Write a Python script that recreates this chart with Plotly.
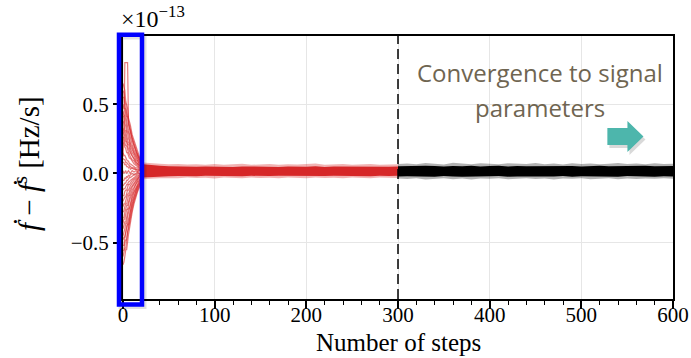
import plotly.graph_objects as go

# ---------------- data (values in units of 1e-13 Hz/s) ----------------
walker_steps = [0, 1, 2, 3, 4, 5, 6, 7, 8, 10, 12, 14, 16, 18, 20, 22]
walkers = [
    [0.65, 0.62, 0.60, 0.52, 0.50, 0.47, 0.40, 0.38, 0.35, 0.28, 0.24, 0.19, 0.15, 0.12, 0.09, 0.06],
    [0.60, 0.58, 0.52, 0.50, 0.44, 0.42, 0.38, 0.33, 0.32, 0.26, 0.21, 0.18, 0.14, 0.11, 0.08, 0.05],
    [0.55, 0.55, 0.48, 0.46, 0.41, 0.41, 0.35, 0.31, 0.30, 0.24, 0.20, 0.17, 0.13, 0.10, 0.07, 0.05],
    [0.50, 0.47, 0.47, 0.40, 0.38, 0.34, 0.31, 0.29, 0.26, 0.21, 0.17, 0.14, 0.11, 0.09, 0.06, 0.04],
    [0.45, 0.42, 0.42, 0.37, 0.33, 0.30, 0.30, 0.25, 0.22, 0.19, 0.15, 0.13, 0.10, 0.08, 0.06, 0.04],
    [0.41, 0.41, 0.36, 0.34, 0.30, 0.29, 0.25, 0.24, 0.20, 0.17, 0.14, 0.12, 0.09, 0.07, 0.05, 0.03],
    [0.38, 0.36, 0.31, 0.31, 0.27, 0.25, 0.22, 0.22, 0.18, 0.15, 0.13, 0.10, 0.09, 0.06, 0.05, 0.03],
    [0.33, 0.30, 0.30, 0.26, 0.24, 0.21, 0.21, 0.17, 0.16, 0.13, 0.11, 0.09, 0.07, 0.06, 0.04, 0.03],
    [0.30, 0.28, 0.27, 0.23, 0.23, 0.19, 0.18, 0.16, 0.15, 0.12, 0.10, 0.08, 0.07, 0.05, 0.04, 0.02],
    [0.26, 0.26, 0.22, 0.20, 0.20, 0.17, 0.15, 0.14, 0.12, 0.10, 0.09, 0.07, 0.06, 0.04, 0.03, 0.02],
    [0.22, 0.22, 0.19, 0.18, 0.15, 0.15, 0.13, 0.11, 0.11, 0.09, 0.07, 0.06, 0.05, 0.04, 0.03, 0.02],
    [0.15, 0.13, 0.13, 0.11, 0.10, 0.09, 0.09, 0.07, 0.07, 0.06, 0.05, 0.04, 0.04, 0.03, 0.02, 0.02],
    [0.11, 0.10, 0.10, 0.08, 0.08, 0.07, 0.06, 0.06, 0.05, 0.04, 0.04, 0.03, 0.03, 0.02, 0.02, 0.01],
    [0.08, 0.08, 0.06, 0.07, 0.05, 0.05, 0.04, 0.05, 0.03, 0.04, 0.03, 0.03, 0.02, 0.03, 0.02, 0.01],
    [0.02, 0.00, 0.01, 0.02, 0.00, 0.01, 0.02, 0.01, 0.00, 0.02, 0.01, 0.02, 0.01, 0.02, 0.01, 0.02],
    [-0.05, -0.05, -0.03, -0.04, -0.02, -0.03, -0.01, -0.02, -0.01, 0.00, -0.01, 0.00, 0.01, 0.00, 0.01, 0.01],
    [-0.09, -0.08, -0.07, -0.07, -0.05, -0.05, -0.04, -0.03, -0.03, -0.02, -0.01, -0.01, 0.00, 0.00, 0.01, 0.01],
    [-0.12, -0.11, -0.11, -0.09, -0.08, -0.08, -0.06, -0.06, -0.05, -0.04, -0.03, -0.02, -0.01, -0.01, 0.00, 0.01],
    [-0.16, -0.16, -0.13, -0.12, -0.12, -0.10, -0.08, -0.08, -0.07, -0.05, -0.04, -0.03, -0.02, -0.01, 0.00, 0.01],
    [-0.20, -0.18, -0.17, -0.17, -0.14, -0.12, -0.12, -0.10, -0.09, -0.07, -0.05, -0.04, -0.03, -0.02, -0.01, 0.00],
    [-0.24, -0.22, -0.22, -0.19, -0.17, -0.15, -0.15, -0.12, -0.11, -0.09, -0.07, -0.05, -0.04, -0.02, -0.01, 0.00],
    [-0.28, -0.27, -0.24, -0.22, -0.22, -0.18, -0.16, -0.16, -0.13, -0.10, -0.08, -0.06, -0.04, -0.03, -0.02, 0.00],
    [-0.32, -0.32, -0.28, -0.26, -0.23, -0.23, -0.19, -0.18, -0.16, -0.12, -0.10, -0.07, -0.05, -0.04, -0.02, -0.01],
    [-0.36, -0.33, -0.33, -0.29, -0.26, -0.26, -0.22, -0.20, -0.18, -0.14, -0.11, -0.08, -0.06, -0.05, -0.03, -0.01],
    [-0.40, -0.38, -0.35, -0.35, -0.31, -0.28, -0.25, -0.25, -0.21, -0.16, -0.13, -0.10, -0.07, -0.05, -0.03, -0.02],
    [-0.45, -0.43, -0.40, -0.36, -0.36, -0.31, -0.28, -0.26, -0.23, -0.18, -0.14, -0.11, -0.08, -0.06, -0.04, -0.02],
    [-0.48, -0.46, -0.46, -0.40, -0.38, -0.36, -0.32, -0.29, -0.27, -0.20, -0.16, -0.12, -0.09, -0.07, -0.04, -0.02],
    [-0.52, -0.52, -0.46, -0.43, -0.40, -0.37, -0.37, -0.31, -0.28, -0.22, -0.17, -0.13, -0.10, -0.08, -0.05, -0.02],
    [-0.56, -0.55, -0.50, -0.48, -0.48, -0.41, -0.38, -0.34, -0.30, -0.24, -0.19, -0.14, -0.11, -0.08, -0.05, -0.03],
    [-0.60, -0.57, -0.54, -0.54, -0.47, -0.42, -0.40, -0.36, -0.33, -0.26, -0.20, -0.15, -0.12, -0.09, -0.06, -0.03],
    [-0.66, -0.64, -0.60, -0.55, -0.55, -0.48, -0.44, -0.40, -0.35, -0.28, -0.22, -0.17, -0.13, -0.10, -0.07, -0.03],
    [0.12, 0.30, 0.80, 0.80, 0.80, 0.80, 0.36, 0.33, 0.30, 0.25, 0.20, 0.16, 0.13, 0.10, 0.07, 0.04],
]

steps_red = [22, 30, 40, 50, 60, 70, 80, 90, 100, 110, 120, 130, 140, 150, 160, 170,
             180, 190, 200, 210, 220, 230, 240, 250, 260, 270, 280, 290, 300]
red_core_hi = [0.066, 0.060, 0.055, 0.052, 0.050, 0.052, 0.049, 0.051, 0.048, 0.050, 0.047, 0.051,
               0.049, 0.048, 0.050, 0.047, 0.051, 0.049, 0.048, 0.052, 0.047, 0.050, 0.049, 0.051,
               0.048, 0.050, 0.047, 0.049, 0.050]
red_core_lo = [-0.030, -0.026, -0.022, -0.020, -0.019, -0.018, -0.020, -0.017, -0.019, -0.016,
               -0.018, -0.020, -0.017, -0.016, -0.019, -0.017, -0.018, -0.016, -0.020, -0.017,
               -0.018, -0.016, -0.019, -0.017, -0.018, -0.020, -0.016, -0.018, -0.017]
red_out_hi = [0.080, 0.074, 0.070, 0.066, 0.068, 0.064, 0.067, 0.063, 0.069, 0.062, 0.066, 0.070,
              0.063, 0.065, 0.068, 0.062, 0.067, 0.064, 0.066, 0.071, 0.063, 0.065, 0.068, 0.062,
              0.066, 0.069, 0.063, 0.065, 0.067]
red_out_lo = [-0.042, -0.038, -0.034, -0.032, -0.035, -0.030, -0.033, -0.031, -0.036, -0.029,
              -0.032, -0.034, -0.030, -0.033, -0.031, -0.035, -0.029, -0.032, -0.034, -0.030,
              -0.033, -0.031, -0.035, -0.030, -0.032, -0.034, -0.029, -0.031, -0.033]

steps_black = [300, 310, 320, 330, 340, 350, 360, 370, 380, 390, 400, 410, 420, 430, 440, 450,
               460, 470, 480, 490, 500, 510, 520, 530, 540, 550, 560, 570, 580, 590, 600]
black_core_hi = [0.052, 0.054, 0.051, 0.055, 0.053, 0.050, 0.054, 0.052, 0.056, 0.051, 0.053,
                 0.055, 0.050, 0.054, 0.052, 0.053, 0.051, 0.055, 0.052, 0.054, 0.050, 0.053,
                 0.056, 0.052, 0.054, 0.051, 0.053, 0.055, 0.052, 0.054, 0.053]
black_core_lo = [-0.022, -0.020, -0.024, -0.021, -0.023, -0.019, -0.022, -0.024, -0.020, -0.023,
                 -0.021, -0.019, -0.023, -0.022, -0.020, -0.024, -0.021, -0.022, -0.019, -0.023,
                 -0.021, -0.024, -0.020, -0.022, -0.023, -0.019, -0.022, -0.021, -0.024, -0.020,
                 -0.022]
black_out_hi = [0.068, 0.072, 0.066, 0.075, 0.070, 0.065, 0.078, 0.071, 0.067, 0.074, 0.069,
                0.066, 0.073, 0.070, 0.068, 0.076, 0.067, 0.071, 0.065, 0.073, 0.069, 0.072,
                0.066, 0.070, 0.075, 0.068, 0.071, 0.067, 0.074, 0.069, 0.070]
black_out_lo = [-0.036, -0.040, -0.034, -0.043, -0.038, -0.035, -0.041, -0.037, -0.044, -0.036,
                -0.039, -0.034, -0.042, -0.038, -0.035, -0.040, -0.037, -0.043, -0.036, -0.039,
                -0.034, -0.041, -0.038, -0.035, -0.042, -0.037, -0.040, -0.036, -0.039, -0.035,
                -0.038]

x_ticks = [0, 100, 200, 300, 400, 500, 600]
y_ticks = [-0.5, 0.0, 0.5]
y_tick_text = ["\u22120.5", "0.0", "0.5"]
burnin_end = 300

SERIF = "Liberation Serif, DejaVu Serif, serif"
RED = "rgb(214,39,40)"

fig = go.Figure()


def band(steps, hi, lo, color):
    fig.add_trace(go.Scatter(
        x=steps + steps[::-1], y=hi + lo[::-1], mode="lines", fill="toself",
        fillcolor=color, line=dict(width=0), hoverinfo="skip", showlegend=False))


band(steps_red, red_out_hi, red_out_lo, "rgba(214,39,40,0.35)")
band(steps_red, red_core_hi, red_core_lo, RED)
band(steps_black, black_out_hi, black_out_lo, "rgba(0,0,0,0.3)")
band(steps_black, black_core_hi, black_core_lo, "black")

wx, wy = [], []
for w in walkers:
    wx += walker_steps + [None]
    wy += w + [None]
fig.add_trace(go.Scatter(x=wx, y=wy, mode="lines",
                         line=dict(color="rgba(214,39,40,0.6)", width=1.2),
                         hoverinfo="skip", showlegend=False))

# geometry helpers (plot area in pixels)
L, R, T, B = 123, 18, 36, 59
W, H = 691, 358
pw, ph = W - L - R, H - T - B


def px(xp):
    return (xp - L) / pw


def py(yp):
    return (H - B - yp) / ph


shapes = []
shapes.append(dict(type="line", xref="x", yref="paper", x0=burnin_end, x1=burnin_end, y0=0, y1=1,
                   line=dict(color="black", width=1.5, dash="10px,5px"), layer="above"))
shapes.append(dict(type="rect", xref="paper", yref="paper", x0=px(121), x1=px(144), y0=py(306.5), y1=py(37),
                   line=dict(color="rgba(0,0,0,0.12)", width=5), layer="above"))
shapes.append(dict(type="rect", xref="paper", yref="paper", x0=px(119), x1=px(142), y0=py(304.5), y1=py(34.7),
                   line=dict(color="#0000ff", width=4.5), layer="above"))
arrow = "M 528.4,0.206 L 550.3,0.206 L 550.3,0.155 L 567.8,0.267 L 550.3,0.379 L 550.3,0.329 L 528.4,0.329 Z"
shadow = "M 530.6,0.184 L 552.5,0.184 L 552.5,0.133 L 570.0,0.245 L 552.5,0.357 L 552.5,0.307 L 530.6,0.307 Z"
shapes.append(dict(type="path", xref="x", yref="y", path=shadow, fillcolor="rgba(0,0,0,0.15)",
                   line=dict(width=0), layer="above"))
shapes.append(dict(type="path", xref="x", yref="y", path=arrow, fillcolor="#4db6ac",
                   line=dict(width=0), layer="above"))

annotations = [
    dict(text="Convergence to signal", xref="x", yref="y", x=455, y=0.726, showarrow=False,
         xanchor="center", yanchor="middle", font=dict(family="Open Sans", size=24, color="#6f6551")),
    dict(text="parameters", xref="x", yref="y", x=455, y=0.480, showarrow=False,
         xanchor="center", yanchor="middle", font=dict(family="Open Sans", size=24, color="#6f6551")),
    dict(text="\u00d710<sup>\u221213</sup>", xref="paper", yref="paper", x=px(119), y=py(34),
         xanchor="left", yanchor="bottom", showarrow=False, font=dict(family=SERIF, size=24, color="black")),
    dict(text="Number of steps", xref="paper", yref="paper", x=0.5, y=py(342.5), xanchor="center",
         yanchor="middle", showarrow=False, font=dict(family=SERIF, size=25, color="black")),
    dict(text="<i>\u1e1f</i> \u2212 <i>\u1e1f</i><sup>s</sup> [Hz/s]", xref="paper", yref="paper",
         x=px(27), y=py(163), xanchor="center", yanchor="middle", textangle=-90, showarrow=False,
         font=dict(family=SERIF, size=29, color="black")),
]

fig.update_layout(
    width=W, height=H, margin=dict(l=L, r=R, t=T, b=B, autoexpand=False),
    plot_bgcolor="white", paper_bgcolor="white", showlegend=False,
    shapes=shapes, annotations=annotations,
    xaxis=dict(range=[0, 600], tickvals=x_ticks, ticks="outside", ticklen=8, tickwidth=1.5,
               tickcolor="black", showline=True, linecolor="black", linewidth=2, mirror=True,
               showgrid=True, gridcolor="#e6e6e6", gridwidth=1, zeroline=False, automargin=False,
               ticklabelstandoff=-12,
               tickfont=dict(family=SERIF, size=21, color="black"),
               minor=dict(dtick=20, ticks="outside", ticklen=4, tickwidth=1.2, tickcolor="black",
                          showgrid=False)),
    yaxis=dict(range=[-0.907, 0.993], tickvals=y_ticks, ticktext=y_tick_text, ticks="outside",
               ticklen=8, tickwidth=1.5, tickcolor="black", showline=True, linecolor="black",
               linewidth=2, mirror=True, showgrid=True, gridcolor="#e6e6e6", gridwidth=1,
               zeroline=False, automargin=False, tickfont=dict(family=SERIF, size=21, color="black"),
               minor=dict(tick0=0, dtick=0.05, ticks="outside", ticklen=4, tickwidth=1.2,
                          tickcolor="black", showgrid=False)),
)

fig.write_html("out.html")
